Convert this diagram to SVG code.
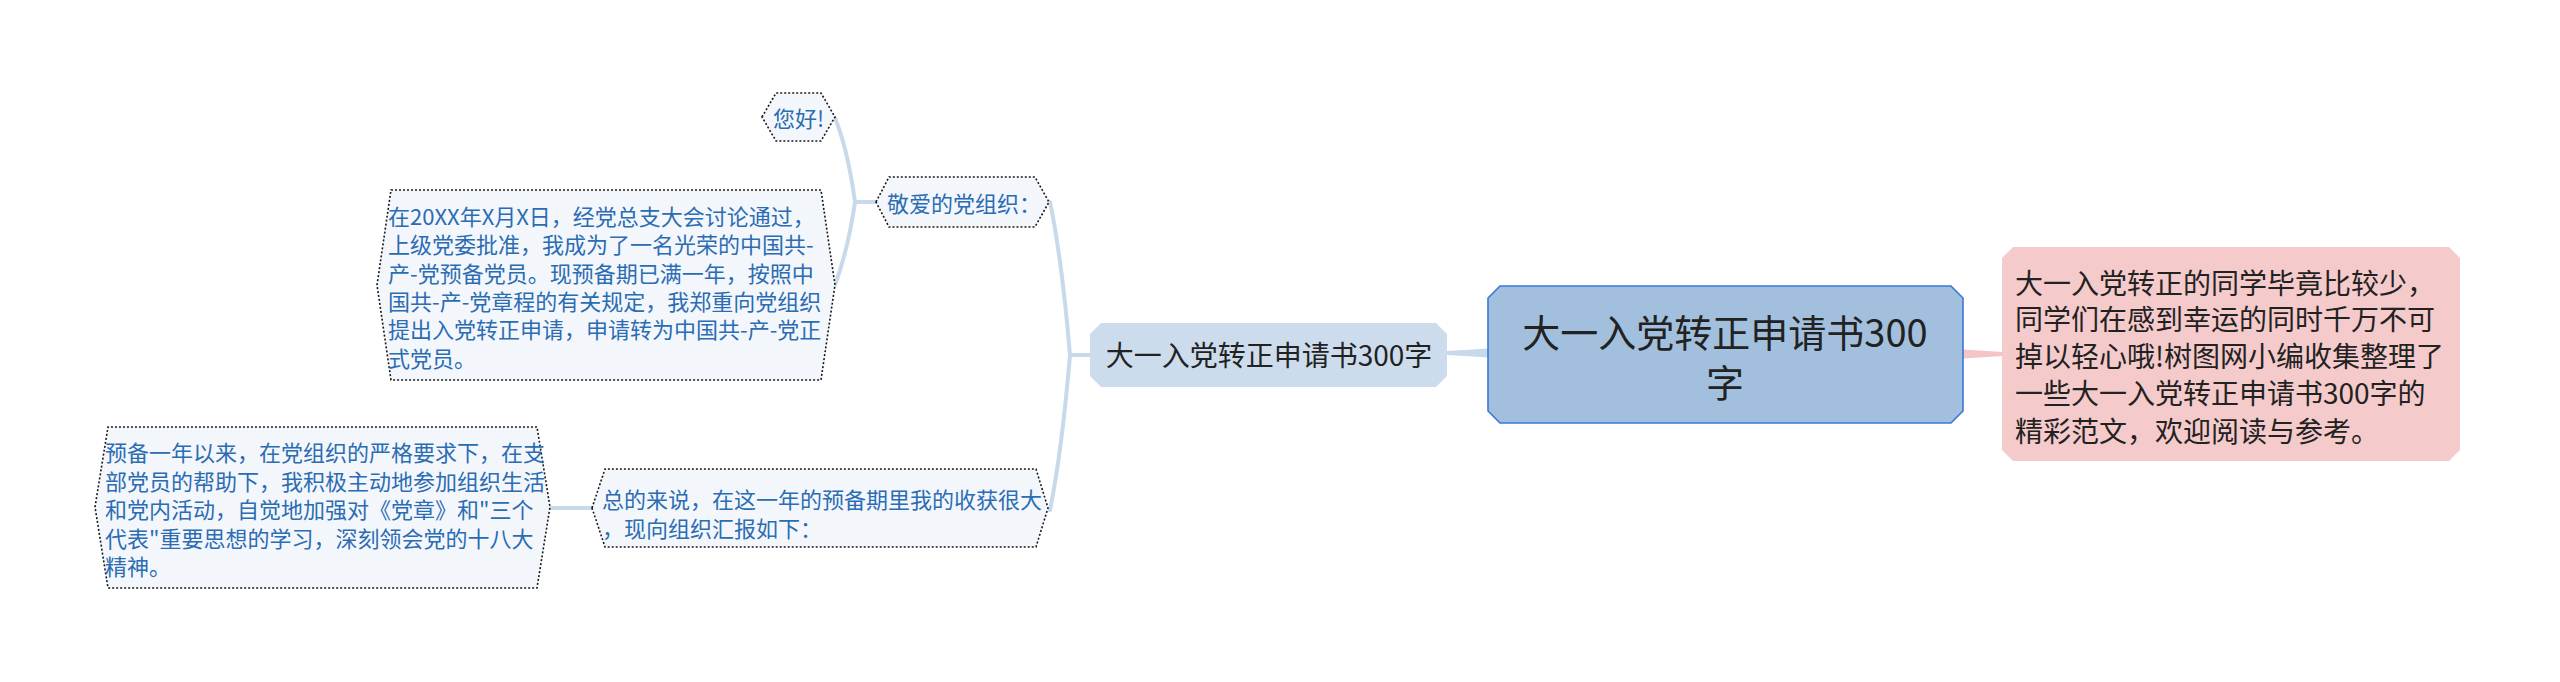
<svg xmlns="http://www.w3.org/2000/svg" width="2560" height="682" viewBox="0 0 2560 682">
<style>
text{font-family:"Noto Sans CJK SC","Noto Sans",sans-serif;dominant-baseline:central}
.sub{fill:#f3f7fc;stroke:#1a1a1a;stroke-width:1.6;stroke-dasharray:2 2}
.subt{font-size:22px;fill:#2b6cb3}
.conn{fill:none;stroke:#c8d9eb;stroke-width:4;stroke-linecap:round;stroke-linejoin:round}
</style>
<rect width="2560" height="682" fill="#ffffff"/>
<g id="connectors">
<path d="M1447,351 L1489,348.5 L1489,357.5 L1447,355 Z" fill="#c8d9eb"/>
<path d="M1963,349.5 L2003,352 L2003,356 L1963,358.5 Z" fill="#f4c5c8"/>
<path class="conn" d="M1090,355 L1070,355 Q1062,260 1050,202"/>
<path class="conn" d="M1070,355 Q1062,450 1050,510"/>
<path class="conn" d="M876,202 L855,202 Q848,150 835,118"/>
<path class="conn" d="M855,202 Q848,250 835,285"/>
<path class="conn" d="M592,508 L550,508"/>
</g>
<g id="center">
<polygon points="1500,286 1951,286 1963,298 1963,411 1951,423 1500,423 1488,411 1488,298" fill="#a2c0de" stroke="#3a78d8" stroke-width="1.6"/>
<text x="1725" y="330" font-size="38" fill="#222" text-anchor="middle">大一入党转正申请书300</text>
<text x="1725" y="380" font-size="38" fill="#222" text-anchor="middle">字</text>
</g>
<g id="summary">
<polygon points="2013,247 2449,247 2460,258 2460,450 2449,461 2013,461 2002,450 2002,258" fill="#f5cacb"/>
<text font-size="28" fill="#222">
<tspan x="2015" y="282">大一入党转正的同学毕竟比较少，</tspan>
<tspan x="2015" y="318">同学们在感到幸运的同时千万不可</tspan>
<tspan x="2015" y="355">掉以轻心哦!树图网小编收集整理了</tspan>
<tspan x="2015" y="392">一些大一入党转正申请书300字的</tspan>
<tspan x="2015" y="430">精彩范文，欢迎阅读与参考。</tspan>
</text>
</g>
<g id="main-topic">
<polygon points="1101,323 1436,323 1447,334 1447,376 1436,387 1101,387 1090,376 1090,334" fill="#ccdcec"/>
<text x="1269" y="354" font-size="28" fill="#222" text-anchor="middle">大一入党转正申请书300字</text>
</g>
<g id="greeting-org">
<polygon class="sub" points="876,202 889,177 1035,177 1049,202 1035,227 889,227"/>
<text class="subt" x="887" y="202">敬爱的党组织：</text>
</g>
<g id="hello">
<polygon class="sub" points="762,117 776,93 821,93 835,117 821,141 776,141"/>
<text class="subt" x="773" y="117">您好!</text>
</g>
<g id="paragraph1">
<polygon class="sub" points="377,285 391,190 821,190 835,285 821,380 391,380"/>
<text class="subt">
<tspan x="388" y="215">在20XX年X月X日，经党总支大会讨论通过，</tspan>
<tspan x="388" y="243">上级党委批准，我成为了一名光荣的中国共-</tspan>
<tspan x="388" y="272">产-党预备党员。现预备期已满一年，按照中</tspan>
<tspan x="388" y="300">国共-产-党章程的有关规定，我郑重向党组织</tspan>
<tspan x="388" y="328">提出入党转正申请，申请转为中国共-产-党正</tspan>
<tspan x="388" y="357">式党员。</tspan>
</text>
</g>
<g id="summary-report">
<polygon class="sub" points="592,508 605,469 1036,469 1048,508 1036,547 605,547"/>
<text class="subt">
<tspan x="602" y="498">总的来说，在这一年的预备期里我的收获很大</tspan>
<tspan x="602" y="527">，现向组织汇报如下：</tspan>
</text>
</g>
<g id="paragraph2">
<polygon class="sub" points="95,507 108,427 537,427 550,507 537,588 108,588"/>
<text class="subt">
<tspan x="105" y="451">预备一年以来，在党组织的严格要求下，在支</tspan>
<tspan x="105" y="480">部党员的帮助下，我积极主动地参加组织生活</tspan>
<tspan x="105" y="508">和党内活动，自觉地加强对《党章》和"三个</tspan>
<tspan x="105" y="537">代表"重要思想的学习，深刻领会党的十八大</tspan>
<tspan x="105" y="565">精神。</tspan>
</text>
</g>
</svg>
